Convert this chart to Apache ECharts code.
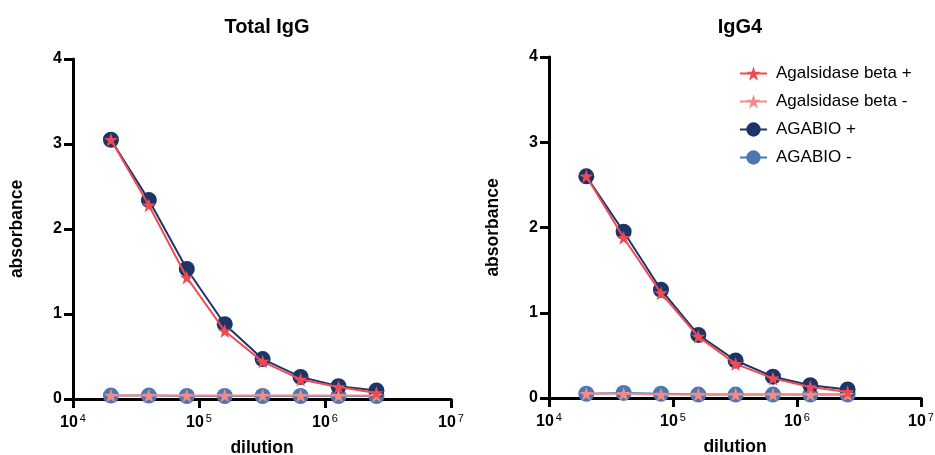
<!DOCTYPE html>
<html><head><meta charset="utf-8">
<script src="https://cdn.jsdelivr.net/npm/echarts@6/dist/echarts.min.js"></script>
<style>html,body{margin:0;padding:0;background:#fff}#c{width:935px;height:455px}</style>
</head><body><div id="c"></div>
<script>
const dilutions = [20000, 40000, 80000, 160000, 320000, 640000, 1280000, 2560000];
const titles = ['Total IgG', 'IgG4'];
const yTicks = [0, 1, 2, 3, 4];
const xTickExps = [4, 5, 6, 7];
const seriesNames = ['Agalsidase beta +', 'Agalsidase beta -', 'AGABIO +', 'AGABIO -'];
// Total IgG
const totalAgalPos = [3.05, 2.28, 1.43, 0.80, 0.44, 0.23, 0.14, 0.07];
const totalAgalNeg = [0.04, 0.04, 0.04, 0.04, 0.04, 0.04, 0.04, 0.04];
const totalAgabioPos = [3.05, 2.34, 1.53, 0.88, 0.47, 0.26, 0.15, 0.10];
const totalAgabioNeg = [0.04, 0.04, 0.035, 0.035, 0.035, 0.035, 0.035, 0.035];
// IgG4
const g4AgalPos = [2.60, 1.88, 1.23, 0.72, 0.40, 0.23, 0.13, 0.07];
const g4AgalNeg = [0.05, 0.05, 0.04, 0.04, 0.04, 0.04, 0.04, 0.04];
const g4AgabioPos = [2.60, 1.95, 1.27, 0.74, 0.44, 0.25, 0.15, 0.10];
const g4AgabioNeg = [0.05, 0.06, 0.05, 0.04, 0.04, 0.04, 0.04, 0.04];

const colors = {
  'Agalsidase beta +': '#ef4b53',
  'Agalsidase beta -': '#f28b88',
  'AGABIO +': '#1c3468',
  'AGABIO -': '#4a79b1'
};
const panels = [
  [totalAgalPos, totalAgalNeg, totalAgabioPos, totalAgabioNeg],
  [g4AgalPos, g4AgalNeg, g4AgabioPos, g4AgabioNeg]
];
const font = 'Liberation Sans, Arial, sans-serif';
const grids = [
  {left: 73, right: 484, top: 59, bottom: 56, outerBoundsMode: 'none', containLabel: false},
  {left: 549, right: 14, top: 57, bottom: 57, outerBoundsMode: 'none', containLabel: false}
];
const xAxes = [], yAxes = [], series = [];
grids.forEach((g, i) => {
  xAxes.push({
    gridIndex: i, type: 'log', logBase: 10, min: Math.pow(10, xTickExps[0]), max: Math.pow(10, xTickExps[xTickExps.length - 1]),
    name: 'dilution', nameLocation: 'middle', nameGap: 40,
    nameTextStyle: {fontFamily: font, fontWeight: 'bold', fontSize: 17.5, color: '#000'},
    axisLine: {show: true, lineStyle: {color: '#000', width: 3}},
    axisTick: {show: true, length: 9, lineStyle: {color: '#000', width: 3}},
    minorTick: {show: false}, splitLine: {show: false},
    axisLabel: {
      margin: 14,
      formatter: v => '{b|10}{s|' + Math.round(Math.log10(v)) + '}',
      rich: {
        b: {fontFamily: font, fontWeight: 'bold', fontSize: 16, color: '#000'},
        s: {fontFamily: font, fontSize: 11, color: '#000', padding: [0, 0, 9, 2]}
      }
    }
  });
  yAxes.push({
    gridIndex: i, type: 'value', min: yTicks[0], max: yTicks[yTicks.length - 1], interval: 1,
    name: 'absorbance', nameLocation: 'middle', nameGap: 47, nameRotate: 90,
    nameTextStyle: {fontFamily: font, fontWeight: 'bold', fontSize: 17.5, color: '#000'},
    axisLine: {show: true, lineStyle: {color: '#000', width: 3}},
    axisTick: {show: true, length: 9, lineStyle: {color: '#000', width: 3}},
    splitLine: {show: false},
    axisLabel: {margin: 11, fontFamily: font, fontWeight: 'bold', fontSize: 16, color: '#000'}
  });
  const data = panels[i];
  const order = [3, 2, 1, 0];
  const zs = {3: 2, 2: 3, 1: 4, 0: 5};
  order.forEach(k => {
    const name = seriesNames[k];
    const isStar = k < 2;
    series.push({
      name: name, type: 'line', xAxisIndex: i, yAxisIndex: i, z: zs[k],
      data: dilutions.map((d, j) => [d, data[k][j]]),
      symbol: isStar ? 'path://M50,0 L61.8,35.4 L100,35.4 L69.1,57.3 L80.9,95.1 L50,72.9 L19.1,95.1 L30.9,57.3 L0,35.4 L38.2,35.4 Z' : 'circle',
      symbolSize: isStar ? 14 : 16,
      showAllSymbol: true,
      lineStyle: {color: colors[name], width: 2},
      itemStyle: {color: colors[name], borderWidth: 0},
      emphasis: {disabled: true},
      animation: false
    });
  });
});
const chart = echarts.init(document.getElementById('c'), null, {renderer: 'canvas'});
chart.setOption({
  animation: false,
  title: titles.map((t, i) => ({
    text: t, left: i === 0 ? 262 : 735, top: 12, textAlign: 'center',
    textStyle: {fontFamily: font, fontWeight: 'bold', fontSize: 20, color: '#000'}
  })),
  legend: {
    data: seriesNames, orient: 'vertical', left: 734, top: 60, itemGap: 11,
    itemWidth: 27, itemHeight: 18,
    textStyle: {fontFamily: font, fontSize: 17, color: '#000', padding: [0, 0, 0, 4]},
    selectedMode: false
  },
  grid: grids,
  xAxis: xAxes,
  yAxis: yAxes,
  series: series
});
</script></body></html>
